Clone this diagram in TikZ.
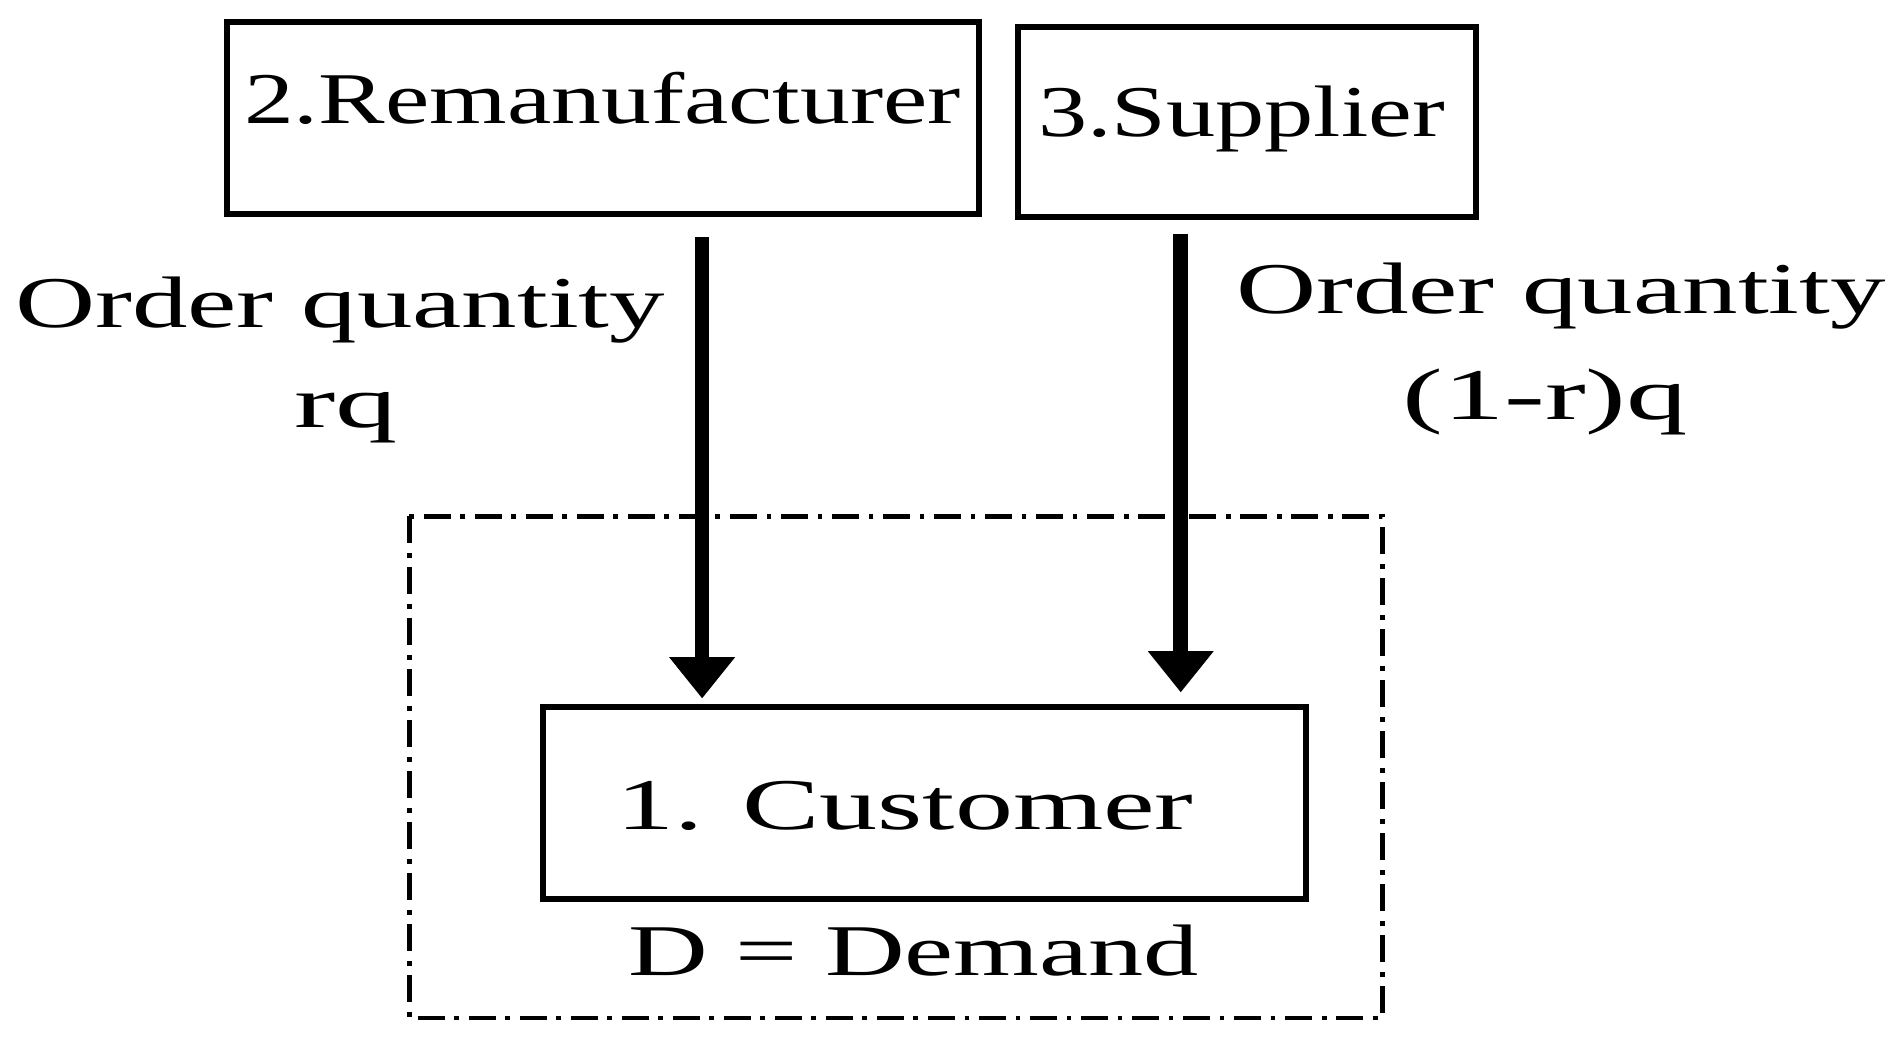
\documentclass[tikz,border=0pt]{standalone}
\usepackage{fontspec}
\setmainfont{Liberation Serif}
\usetikzlibrary{arrows.meta}
\newcommand{\sxt}[2]{\resizebox{#1pt}{\height}{\fontsize{60}{60}\selectfont #2}}
\begin{document}
\begin{tikzpicture}[x=1pt,y=-1pt,
  box/.style={draw,line width=5pt,inner sep=0},
  arr/.style={line width=12pt,-{Triangle[width=52pt,length=34pt]}},
  lbl/.style={inner sep=0,anchor=base}]
\useasboundingbox (0,0) rectangle (1560,871);
\draw[box] (187,18) rectangle (806,176);
\draw[box] (838,22) rectangle (1215,179);
\draw[box] (447,582) rectangle (1075,740);
\draw[line width=4pt,dash pattern=on 22pt off 8pt on 4pt off 8pt] (337,425) rectangle (1138,838);
\node[lbl] (rem) at (496,102) {\sxt{590}{2.Remanufacturer}};
\node[lbl] (sup) at (1022,112) {\sxt{335}{3.Supplier}};
\node[lbl] (cus) at (745,683) {\sxt{475}{1. Customer}};
\node[lbl] (dem) at (752,803) {\sxt{470}{D = Demand}};
\node[lbl] (o1) at (280,270) {\sxt{535}{Order quantity}};
\node[lbl] (q1) at (285,352) {\sxt{85}{rq}};
\node[lbl] (o2) at (1285,258) {\sxt{535}{Order quantity}};
\node[lbl] (q2) at (1272,345) {\sxt{235}{(1-r)q}};
\coordinate (a1) at (578,195); \coordinate (b1) at (578,575);
\coordinate (a2) at (972,193); \coordinate (b2) at (972,570);
\draw[arr] (a1) -- (b1);
\draw[arr] (a2) -- (b2);
\end{tikzpicture}
\end{document}
